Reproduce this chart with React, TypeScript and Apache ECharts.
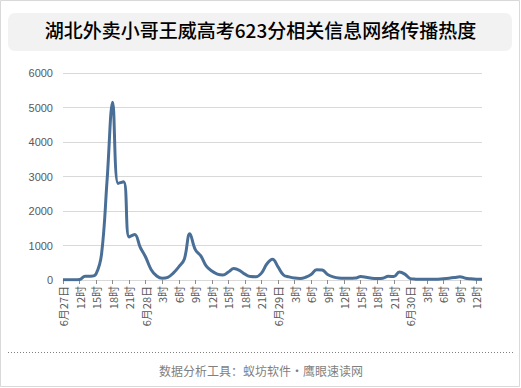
import React, { useEffect, useRef } from "react";
import * as echarts from "echarts";

const titleText = "湖北外卖小哥王威高考623分相关信息网络传播热度";
const footerText = "数据分析工具：蚁坊软件・鹰眼速读网";

// hourly categories from 6月27日 9时 to 6月30日 13时
const startDay = 27;
const startHour = 9;
const pointCount = 77;
const categories: string[] = [];
for (let i = 0; i < pointCount; i++) {
  const h = startHour + i;
  const day = startDay + Math.floor(h / 24);
  categories.push(`6月${day}日 ${h % 24}时`);
}

const heatValues = [
  10, 10, 10, 15, 110, 110, 180, 760, 2900, 5150,
  2800, 2850, 1250, 1320, 950, 660, 300, 115, 50, 75,
  200, 380, 600, 1340, 880, 700, 400, 260, 170, 145,
  230, 330, 280, 170, 100, 95, 200, 470, 600, 380,
  145, 90, 55, 45, 80, 160, 300, 290, 160, 90,
  55, 50, 50, 55, 100, 80, 50, 40, 50, 110,
  100, 230, 170, 40, 25, 20, 20, 20, 25, 35,
  50, 70, 95, 50, 35, 25, 20,
];

const yTicks = { min: 0, max: 6000, interval: 1000 };

function labelFor(name: string, index: number): string {
  const m = name.match(/^(6月\d+日) (\d+)时$/);
  if (!m) return name;
  const hour = Number(m[2]);
  if (index === 0 || hour === 0) return m[1];
  return `${hour}时`;
}

export default function App() {
  const ref = useRef<HTMLDivElement>(null);
  useEffect(() => {
    document.body.style.margin = "0";
    if (!ref.current) return;
    const chart = echarts.init(ref.current, undefined, { renderer: "svg" });
    chart.setOption({
      animation: false,
      backgroundColor: "#ffffff",
      title: {
        text: titleText,
        left: "center",
        top: 20,
        textStyle: {
          fontFamily: "Noto Sans CJK SC",
          fontSize: 19,
          fontWeight: 500,
          color: "#000000",
        },
        padding: 0,
      },
      graphic: [
        {
          type: "rect",
          shape: { x: 0.5, y: 0.5, width: 519, height: 386 },
          style: { fill: "none", stroke: "#d9d9d9", lineWidth: 1 },
          z: -10,
        },
        {
          type: "rect",
          shape: { x: 8, y: 13, width: 504, height: 38, r: 7 },
          style: { fill: "#f2f2f2" },
          z: -5,
        },
        {
          type: "line",
          shape: { x1: 8, y1: 352.5, x2: 513, y2: 352.5 },
          style: { stroke: "#7f7f7f", lineWidth: 1, lineDash: [1, 2] },
        },
        {
          type: "text",
          x: 261,
          y: 370,
          style: {
            text: footerText,
            fill: "#7f7f7f",
            font: '12px "Noto Sans CJK SC"',
            align: "center",
            verticalAlign: "middle",
          },
        },
      ],
      grid: { left: 63, right: 39, top: 73, bottom: 108, containLabel: false },
      xAxis: {
        type: "category",
        data: categories,
        boundaryGap: false,
        axisLine: { lineStyle: { color: "#d9d9d9", width: 1 } },
        axisTick: {
          show: true,
          interval: 2,
          length: 4,
          lineStyle: { color: "#8c8c8c" },
        },
        axisLabel: {
          interval: 2,
          rotate: 90,
          margin: 6,
          color: "#595959",
          fontSize: 11,
          fontFamily: "Noto Sans CJK SC",
          formatter: (v: string, i: number) => labelFor(v, i),
        },
        splitLine: { show: false },
      },
      yAxis: {
        type: "value",
        min: yTicks.min,
        max: yTicks.max,
        interval: yTicks.interval,
        axisLine: { show: false },
        axisTick: { show: false },
        axisLabel: {
          color: "#595959",
          fontSize: 11,
          margin: 10,
          fontFamily: "Liberation Sans",
          formatter: (v: number) => String(v),
        },
        splitLine: { lineStyle: { color: "#d9d9d9", width: 1 } },
      },
      series: [
        {
          type: "line",
          data: heatValues,
          smooth: 0.4,
          showSymbol: false,
          symbol: "none",
          lineStyle: { color: "#4a6f97", width: 3 },
        },
      ],
    });
    return () => chart.dispose();
  }, []);
  return <div ref={ref} style={{ width: 521, height: 388 }} />;
}
